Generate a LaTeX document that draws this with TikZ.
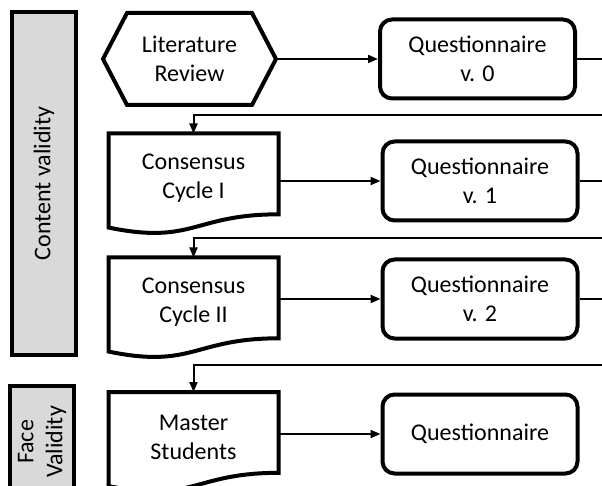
\documentclass[tikz,border=0pt]{standalone}
\usepackage{fontspec}
\setmainfont{Carlito}
\usetikzlibrary{positioning}
\usetikzlibrary{calc}
\usetikzlibrary{arrows.meta}
\definecolor{barfill}{HTML}{D9D9D9}
\tikzset{
    every node/.style={font=\fontsize{24}{29}\selectfont, align=center},
    question/.style={draw, line width=4pt, rounded corners=12pt, minimum width=195pt, minimum height=79pt},
    stepshape/.style={minimum width=168pt, minimum height=88pt},
    outline/.style={draw, line width=4pt, line join=miter},
    phase/.style={draw, line width=4pt, fill=barfill, rotate=90, minimum height=64pt}
}
% hexagon round a named node
\newcommand{\hexoutline}[1]{%
    \draw[outline] (#1.west) -- ([xshift=24pt]#1.north west) -- ([xshift=-24pt]#1.north east)
        -- (#1.east) -- ([xshift=-24pt]#1.south east) -- ([xshift=24pt]#1.south west) -- cycle;}
% document shape (wavy bottom) round a named node
\newcommand{\docoutline}[1]{%
    \draw[outline] (#1.north west) -- (#1.north east) -- ($(#1.north east)!0.898!(#1.south east)$)
        .. controls ($(#1.north)!0.898!(#1.south)$) and ($(#1.north)!1.239!(#1.south)$)
        .. ($(#1.north west)!1.045!(#1.south west)$) -- cycle;}

\begin{document}
\begin{tikzpicture}[x=1pt, y=-1pt, line width=2pt, >={Triangle[length=10pt,width=8pt]}]
    \useasboundingbox (0,0) rectangle (602,486);
    \clip (0,0) rectangle (602,486);

    \node[phase, minimum width=343pt] at (44,183.5) (content) {Content validity};
    \node[phase, minimum width=112pt] at (42,442)   (face)    {Face\\Validity};

    \node[minimum width=171pt, minimum height=90pt] at (189.5,59) (litrev) {Literature\\Review};
    \node[stepshape] at (193.5,178.5) (cycle1) {Consensus\\Cycle I};
    \node[stepshape] at (193.5,302.5) (cycle2) {Consensus\\Cycle II};
    \node[stepshape] at (193.5,437)   (master) {Master\\Students};
    \hexoutline{litrev}
    \docoutline{cycle1}
    \docoutline{cycle2}
    \docoutline{master}

    \node[question] at (477.5,59) (quest0) {Questionnaire\\v. 0};
    \node[question] at (480,181)  (quest1) {Questionnaire\\v. 1};
    \node[question] at (480,299)  (quest2) {Questionnaire\\v. 2};
    \node[question] at (480,434)  (quest3) {Questionnaire};

    \coordinate (out0)  at (615,59);
    \coordinate (out1)  at (615,181);
    \coordinate (out2)  at (615,299);
    \coordinate (back1) at (615,115);
    \coordinate (back2) at (615,238);
    \coordinate (back3) at (615,365);

    \draw [->] (litrev) -- (quest0);
    \draw [->] (cycle1.east |- quest1) -- (quest1);
    \draw [->] (cycle2.east |- quest2) -- (quest2);
    \draw [->] (master.east |- quest3) -- (quest3);

    \draw (quest0) -- (out0);
    \draw (quest1) -- (out1);
    \draw (quest2) -- (out2);
    \draw [->] (back1) -| (cycle1);		% loops back from the right edge
    \draw [->] (back2) -| (cycle2);
    \draw [->] (back3) -| (master);
\end{tikzpicture}
\end{document}
